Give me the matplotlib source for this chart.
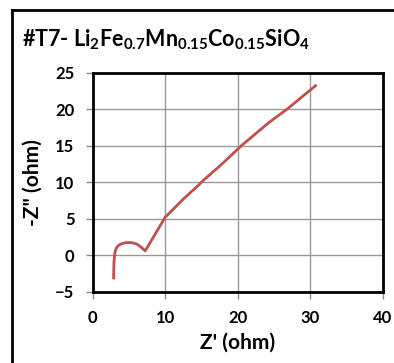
import matplotlib
matplotlib.use("Agg")
import matplotlib.pyplot as plt
from matplotlib.lines import Line2D

plt.rcParams["font.family"] = ["Lato", "DejaVu Sans"]
plt.rcParams["font.weight"] = "bold"
plt.rcParams["mathtext.fontset"] = "custom"
plt.rcParams["mathtext.rm"] = "Lato:bold"
plt.rcParams["mathtext.it"] = "Lato:bold"
plt.rcParams["mathtext.bf"] = "Lato:bold"

# Nyquist data
z_real = [2.9, 2.91, 2.94, 3.0, 3.1, 3.25, 3.5, 3.9, 4.5, 5.3, 6.1, 6.7, 7.25,
          8.5, 10.0, 11.0, 12.5, 14.6, 15.3, 17.5, 20.5, 24.2, 26.8, 30.7]
z_imag = [-3.1, -2.2, -1.2, -0.2, 0.5, 0.95, 1.3, 1.55, 1.72, 1.75, 1.55, 1.1, 0.6,
          2.7, 5.2, 6.2, 7.7, 9.6, 10.3, 12.2, 15.0, 18.1, 20.0, 23.2]

x_ticks = [0, 10, 20, 30, 40]
y_ticks = [-5, 0, 5, 10, 15, 20, 25]

fig = plt.figure(figsize=(3.94, 3.63), dpi=100)
ax = fig.add_axes([0.235, 0.196, 0.737, 0.604])

ax.plot(z_real, z_imag, color="#C0504D", linewidth=2)

ax.set_xlim(0, 40)
ax.set_ylim(-5, 25)
ax.set_xticks(x_ticks)
ax.set_yticks(y_ticks)
ax.grid(True, color="#999999", linewidth=1)
ax.set_axisbelow(True)

for s in ax.spines.values():
    s.set_linewidth(2)
    s.set_color("black")

ax.tick_params(direction="out", length=5, width=1, color="#888888",
               labelsize=12, pad=8)
for lab in ax.get_xticklabels() + ax.get_yticklabels():
    lab.set_fontweight("bold")

ax.set_xlabel("Z' (ohm)", fontsize=15, fontweight="bold", labelpad=5)
ax.set_ylabel('-Z" (ohm)', fontsize=15, fontweight="bold", labelpad=9)

fig.text(0.056, 0.873, r"#T7- Li$_2$Fe$_{0.7}$Mn$_{0.15}$Co$_{0.15}$SiO$_4$",
         fontsize=15.5, fontweight="bold", ha="left", va="baseline")

# outer frame (top and left edges visible)
fig.add_artist(Line2D([12 / 394, 1.0], [1 - 10 / 363, 1 - 10 / 363],
                      transform=fig.transFigure, color="black", linewidth=2))
fig.add_artist(Line2D([12 / 394, 12 / 394], [0, 1 - 10 / 363],
                      transform=fig.transFigure, color="black", linewidth=2))

fig.savefig("out.png", dpi=100)
